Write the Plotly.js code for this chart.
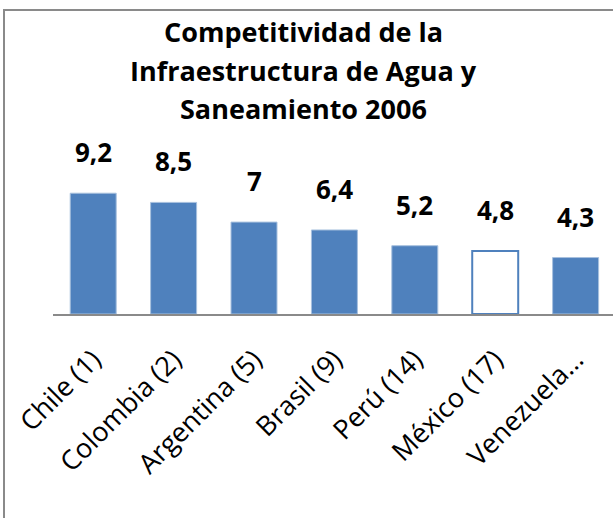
<!DOCTYPE html>
<html>
<head>
<meta charset="utf-8">
<script src="https://cdn.plot.ly/plotly-3.0.1.min.js"></script>
<style>
  html, body { margin: 0; padding: 0; background: #fff; overflow: hidden; }
  #wrap { position: relative; width: 613px; height: 518px; }
  #chart { position: absolute; left: 0; top: 0; width: 613px; height: 518px; }
  #frame { position: absolute; left: 3px; top: 9px; width: 700px; height: 700px;
           border-left: 2px solid #8a8a8a; border-top: 2px solid #8a8a8a; pointer-events: none; }
</style>
</head>
<body>
<div id="wrap">
  <div id="chart"></div>
  <div id="frame"></div>
</div>
<script>
const TITLE_LINES = ['Competitividad de la', 'Infraestructura de Agua y', 'Saneamiento 2006'];
const categories = ['Chile (1)', 'Colombia (2)', 'Argentina (5)', 'Brasil (9)', 'Perú (14)', 'México (17)', 'Venezuela (…)'];
const tickLabels = ['Chile (1)', 'Colombia (2)', 'Argentina (5)', 'Brasil (9)', 'Perú (14)', 'México (17)', 'Venezuela…'];
const values = [9.2, 8.5, 7, 6.4, 5.2, 4.8, 4.3];
const valueLabels = ['9,2', '8,5', '7', '6,4', '5,2', '4,8', '4,3'];
const highlighted = 'México (17)';

const BLUE = '#4F81BD';
const fillColors = categories.map(c => c === highlighted ? '#FFFFFF' : BLUE);
const lineColors = categories.map(c => c === highlighted ? BLUE : '#A7C0DE');
const lineWidths = categories.map(c => c === highlighted ? 2 : 1);

const FONT = '"Open Sans", sans-serif';

const trace = {
  type: 'bar',
  x: categories,
  y: values,
  marker: { color: fillColors, line: { color: lineColors, width: lineWidths } },
  hoverinfo: 'x+y'
};

const annotations = [];
const titleY = [1.318, 1.136, 0.96];
TITLE_LINES.forEach((t, i) => {
  annotations.push({
    text: '<b>' + t + '</b>', xref: 'paper', yref: 'paper', x: 0.448, y: titleY[i],
    xanchor: 'center', yanchor: 'middle', showarrow: false,
    font: { family: FONT, size: 27, color: '#000' }
  });
});
categories.forEach((c, i) => {
  annotations.push({
    text: '<b>' + valueLabels[i] + '</b>', x: c, y: values[i], xref: 'x', yref: 'y',
    xanchor: 'center', yanchor: 'bottom', yshift: 21, showarrow: false,
    font: { family: FONT, size: 26, color: '#000' }
  });
});

const layout = {
  width: 613, height: 518,
  margin: { l: 53, r: 0, t: 100, b: 204 },
  paper_bgcolor: '#fff', plot_bgcolor: '#fff',
  showlegend: false,
  bargap: 0.428,
  xaxis: {
    type: 'category',
    range: [-0.5, 6.465],
    tickvals: categories, ticktext: tickLabels,
    tickangle: -45,
    showline: true, linecolor: '#8a8a8a', linewidth: 2,
    ticks: '', showgrid: false, zeroline: false,
    ticklabelstandoff: 17,
    tickfont: { family: FONT, size: 27, color: '#000' }
  },
  yaxis: {
    range: [0, 16.3], visible: false, showgrid: false, zeroline: false
  },
  annotations: annotations
};

Plotly.newPlot('chart', [trace], layout, { displayModeBar: false, staticPlot: true });
</script>
</body>
</html>
